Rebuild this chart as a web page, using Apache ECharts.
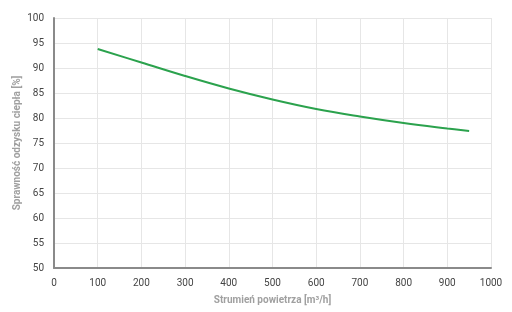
<!DOCTYPE html>
<html>
<head>
<meta charset="utf-8">
<script src="https://cdn.jsdelivr.net/npm/echarts@6/dist/echarts.min.js"></script>
<style>
  html, body { margin: 0; padding: 0; background: #fff; }
  #chart { width: 512px; height: 312px; }
</style>
</head>
<body>
<div id="chart"></div>
<script>
  // przepływ powietrza [m3/h]
  const airflow = [100, 200, 300, 400, 500, 600, 700, 800, 900, 950]
  // sprawność odzysku ciepła [%]
  const efficiency = [93.8, 91.1, 88.4, 85.9, 83.7, 81.8, 80.3, 79.0, 77.9, 77.4]

  const chart = echarts.init(document.getElementById('chart'))
  const font = 'Roboto, "Noto Sans", sans-serif'

  const option = {
    animation: false,
    textStyle: { fontFamily: font },
    grid: { left: 54, right: 21, top: 18, bottom: 44 },
    xAxis: {
      type: 'value',
      min: 0,
      max: 1000,
      interval: 100,
      name: 'Strumień powietrza [m³/h]',
      nameLocation: 'middle',
      nameGap: 27,
      nameTextStyle: { color: '#a0a0a0', fontSize: 10, fontWeight: 'bold', fontFamily: font },
      axisLine: { lineStyle: { color: '#8a8a8a', width: 2 } },
      axisTick: { show: false },
      axisLabel: { color: '#444', fontSize: 10, margin: 10, formatter: v => String(v) },
      splitLine: { lineStyle: { color: '#e6e6e6' } }
    },
    yAxis: {
      type: 'value',
      min: 50,
      max: 100,
      interval: 5,
      name: 'Sprawność odzysku ciepła [%]',
      nameLocation: 'middle',
      nameGap: 32,
      nameMoveOverlap: false,
      nameTextStyle: { color: '#a0a0a0', fontSize: 10, fontWeight: 'bold', fontFamily: font },
      axisLine: { show: true, lineStyle: { color: '#8a8a8a', width: 2 } },
      axisTick: { show: false },
      axisLabel: { color: '#444', fontSize: 10, margin: 10 },
      splitLine: { lineStyle: { color: '#e6e6e6' } }
    },
    series: [{
      type: 'line',
      smooth: 0.4,
      showSymbol: false,
      data: airflow.map((x, i) => [x, efficiency[i]]),
      lineStyle: { color: '#2ba24d', width: 2 }
    }]
  }
  chart.setOption(option)
</script>
</body>
</html>
